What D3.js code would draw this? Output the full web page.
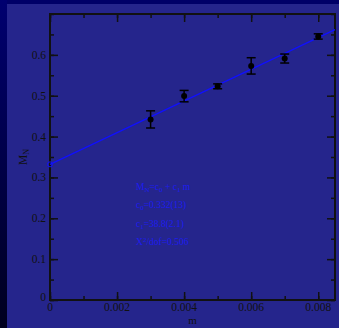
<!DOCTYPE html>
<html>
<head>
<meta charset="utf-8">
<script src="https://cdn.jsdelivr.net/npm/d3@7"></script>
<style>
  html, body { margin: 0; padding: 0; background: #000068; }
  svg { display: block; }
  .tick-label { font-family: "Liberation Serif", "DejaVu Serif", serif; font-size: 11.5px; fill: #111; }
  .fit-text { font-family: "Liberation Serif", "DejaVu Serif", serif; font-size: 9.5px; fill: #1c1cf0; }
</style>
</head>
<body>
<svg id="chart"></svg>
<script>
// data
const mValues = [0.003, 0.004, 0.005, 0.006, 0.007, 0.008];
const mnValues = [0.442, 0.499, 0.523, 0.573, 0.591, 0.645];
const mnErrors = [0.021, 0.014, 0.006, 0.020, 0.011, 0.0065];
const fitC0 = 0.332;
const fitC1 = 38.8;
const xTicks = [0, 0.002, 0.004, 0.006, 0.008];
const yTicks = [0, 0.1, 0.2, 0.3, 0.4, 0.5, 0.6];
const fitLines = ["M_N=c_0 + c_1 m", "c_0=0.332(13)", "c_1=38.8(2.1)", "X^2/dof=0.506"];

const W = 339, H = 328;
const margin = { top: 14, right: 4, bottom: 28, left: 50 };
const width = 335 - margin.left;
const height = 300 - margin.top;

const svg = d3.select('#chart').attr('width', W).attr('height', H);

// background: dark strips top/left, panel
const defs = svg.append('defs');
const grad = defs.append('linearGradient').attr('id', 'leftGrad')
    .attr('x1', 0).attr('y1', 0).attr('x2', 0).attr('y2', 1);
grad.append('stop').attr('offset', '0%').attr('stop-color', '#000070');
grad.append('stop').attr('offset', '100%').attr('stop-color', '#00001e');
svg.append('rect').attr('width', W).attr('height', H).attr('fill', '#000068');
svg.append('rect').attr('x', 0).attr('y', 0).attr('width', 7).attr('height', H).attr('fill', 'url(#leftGrad)');
svg.append('rect').attr('x', 7).attr('y', 4).attr('width', W - 7).attr('height', H - 4).attr('fill', '#25258c');

const chart = svg.append('g').attr('transform', `translate(${margin.left}, ${margin.top})`);

const xScale = d3.scaleLinear().domain([0, 0.0085]).range([0, width]);
const yScale = d3.scaleLinear().domain([0, 0.7]).range([height, 0]);

// inward ticks on all four sides
const xMinor = d3.range(0, 0.0086, 0.001);
const yMinor = d3.range(0, 0.701, 0.05);

const tickStyle = g => {
    g.select('.domain').remove();
    g.selectAll('.tick line').attr('stroke', '#111').attr('stroke-width', 1.5);
    g.selectAll('.tick text').remove();
};

chart.append('g').attr('transform', `translate(0, ${height})`)
    .call(d3.axisTop(xScale).tickValues(xMinor).tickSize(4)).call(tickStyle);
chart.append('g').attr('transform', `translate(0, ${height})`)
    .call(d3.axisTop(xScale).tickValues(xTicks).tickSize(8)).call(tickStyle);
chart.append('g')
    .call(d3.axisBottom(xScale).tickValues(xMinor).tickSize(4)).call(tickStyle);
chart.append('g')
    .call(d3.axisBottom(xScale).tickValues(xTicks).tickSize(8)).call(tickStyle);
chart.append('g')
    .call(d3.axisRight(yScale).tickValues(yMinor).tickSize(4)).call(tickStyle);
chart.append('g')
    .call(d3.axisRight(yScale).tickValues(yTicks).tickSize(8)).call(tickStyle);
chart.append('g').attr('transform', `translate(${width}, 0)`)
    .call(d3.axisLeft(yScale).tickValues(yMinor).tickSize(4)).call(tickStyle);
chart.append('g').attr('transform', `translate(${width}, 0)`)
    .call(d3.axisLeft(yScale).tickValues(yTicks).tickSize(8)).call(tickStyle);

// frame
chart.append('rect').attr('width', width).attr('height', height)
    .attr('fill', 'none').attr('stroke', '#111').attr('stroke-width', 2);

// tick labels
chart.selectAll('.xlab').data(xTicks).enter().append('text')
    .attr('class', 'tick-label')
    .attr('x', d => xScale(d)).attr('y', height + 11)
    .attr('text-anchor', 'middle')
    .text(d => d === 0 ? '0' : d.toFixed(3));
chart.selectAll('.ylab').data(yTicks).enter().append('text')
    .attr('class', 'tick-label')
    .attr('x', -4).attr('y', d => yScale(d) + (d === 0 ? 1 : 4))
    .attr('text-anchor', 'end')
    .text(d => d === 0 ? '0' : d.toFixed(1));

// axis titles
chart.append('text').attr('class', 'tick-label')
    .style('font-size', '11px')
    .attr('x', xScale(0.00425)).attr('y', height + 24)
    .attr('text-anchor', 'middle').text('m');
const yTitle = chart.append('text').attr('class', 'tick-label')
    .attr('transform', `translate(-23, ${yScale(0.35)}) rotate(-90)`)
    .attr('text-anchor', 'middle');
yTitle.append('tspan').text('M');
yTitle.append('tspan').attr('font-size', '8px').attr('baseline-shift', '-25%').text('N');

// fit line
const fit = m => fitC0 + fitC1 * m;
chart.append('line')
    .attr('x1', xScale(0)).attr('y1', yScale(fit(0)))
    .attr('x2', xScale(0.0085)).attr('y2', yScale(fit(0.0085)))
    .attr('stroke', '#1010ff').attr('stroke-width', 1.3);
chart.append('circle')
    .attr('cx', xScale(0)).attr('cy', yScale(fitC0)).attr('r', 2.5)
    .attr('fill', 'none').attr('stroke', '#1010ff').attr('stroke-width', 1);

// error bars + points
const pts = mValues.map((m, i) => ({ m: m, v: mnValues[i], e: mnErrors[i] }));
const eb = chart.selectAll('.eb').data(pts).enter().append('g')
    .attr('stroke', '#000').attr('stroke-width', 1.5);
eb.append('line')
    .attr('x1', d => xScale(d.m)).attr('x2', d => xScale(d.m))
    .attr('y1', d => yScale(d.v - d.e)).attr('y2', d => yScale(d.v + d.e));
eb.append('line')
    .attr('x1', d => xScale(d.m) - 4.5).attr('x2', d => xScale(d.m) + 4.5)
    .attr('y1', d => yScale(d.v - d.e)).attr('y2', d => yScale(d.v - d.e));
eb.append('line')
    .attr('x1', d => xScale(d.m) - 4.5).attr('x2', d => xScale(d.m) + 4.5)
    .attr('y1', d => yScale(d.v + d.e)).attr('y2', d => yScale(d.v + d.e));
chart.selectAll('.pt').data(pts).enter().append('circle')
    .attr('cx', d => xScale(d.m)).attr('cy', d => yScale(d.v)).attr('r', 3)
    .attr('fill', '#000');

// fit annotation, sub/superscripts as shifted tspans
const fitText = chart.append('g');
const parseSub = (el, s) => {
    const parts = s.split(/([_^][0-9A-Za-z])/);
    parts.forEach(p => {
        if (!p) return;
        if (p[0] === '_') {
            el.append('tspan').attr('font-size', '7px').attr('baseline-shift', '-30%').text(p[1]);
        } else if (p[0] === '^') {
            el.append('tspan').attr('font-size', '7px').attr('baseline-shift', '50%').text(p[1]);
        } else {
            el.append('tspan').text(p);
        }
    });
};
fitLines.forEach((s, i) => {
    const t = fitText.append('text').attr('class', 'fit-text')
        .attr('x', 86).attr('y', 176 + i * 18.3);
    parseSub(t, s);
});
</script>
</body>
</html>
